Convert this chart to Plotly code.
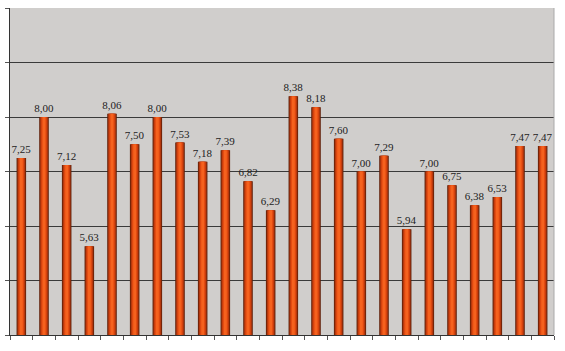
import plotly.graph_objects as go

categories = [str(i) for i in range(1, 25)]
values = [7.25, 8.00, 7.12, 5.63, 8.06, 7.50, 8.00, 7.53, 7.18, 7.39, 6.82, 6.29,
          8.38, 8.18, 7.60, 7.00, 7.29, 5.94, 7.00, 6.75, 6.38, 6.53, 7.47, 7.47]

layers = [
    (0.42, "#5a1e08"),
    (0.36, "#9a300c"),
    (0.29, "#c83e0e"),
    (0.21, "#e44c12"),
    (0.12, "#f5621e"),
]

fig = go.Figure()
for i, (w, c) in enumerate(layers):
    fig.add_trace(go.Bar(
        x=categories, y=values, width=w, base=0,
        marker=dict(color=c, line=dict(width=0)),
        text=[f"{v:.2f}".replace(".", ",") for v in values] if i == 0 else None,
        textposition="outside" if i == 0 else "none",
        textfont=dict(family="Liberation Serif", size=11, color="#222"),
        constraintext="none",
        cliponaxis=False,
        hoverinfo="skip",
    ))

fig.update_layout(
    width=565, height=351,
    margin=dict(l=6, r=11, t=8, b=16),
    barmode="overlay",
    showlegend=False,
    paper_bgcolor="white",
    plot_bgcolor="#d0cecc",
    separators=",.",
)
fig.update_yaxes(range=[4, 10], dtick=1, showticklabels=False,
                 showgrid=True, gridcolor="#3a3a3a", gridwidth=1,
                 showline=True, linecolor="#333", linewidth=1,
                 ticks="outside", ticklen=4, tickcolor="#555", zeroline=False)
fig.update_xaxes(showticklabels=False, showgrid=False,
                 showline=True, linecolor="#333", linewidth=1,
                 ticks="outside", ticklen=4, tickcolor="#555",
                 tickson="boundaries", mirror=False)
fig.add_shape(type="line", xref="paper", yref="paper", x0=1, x1=1, y0=0, y1=1,
              line=dict(color="#aaaaaa", width=1))
fig.write_html("out.html")
